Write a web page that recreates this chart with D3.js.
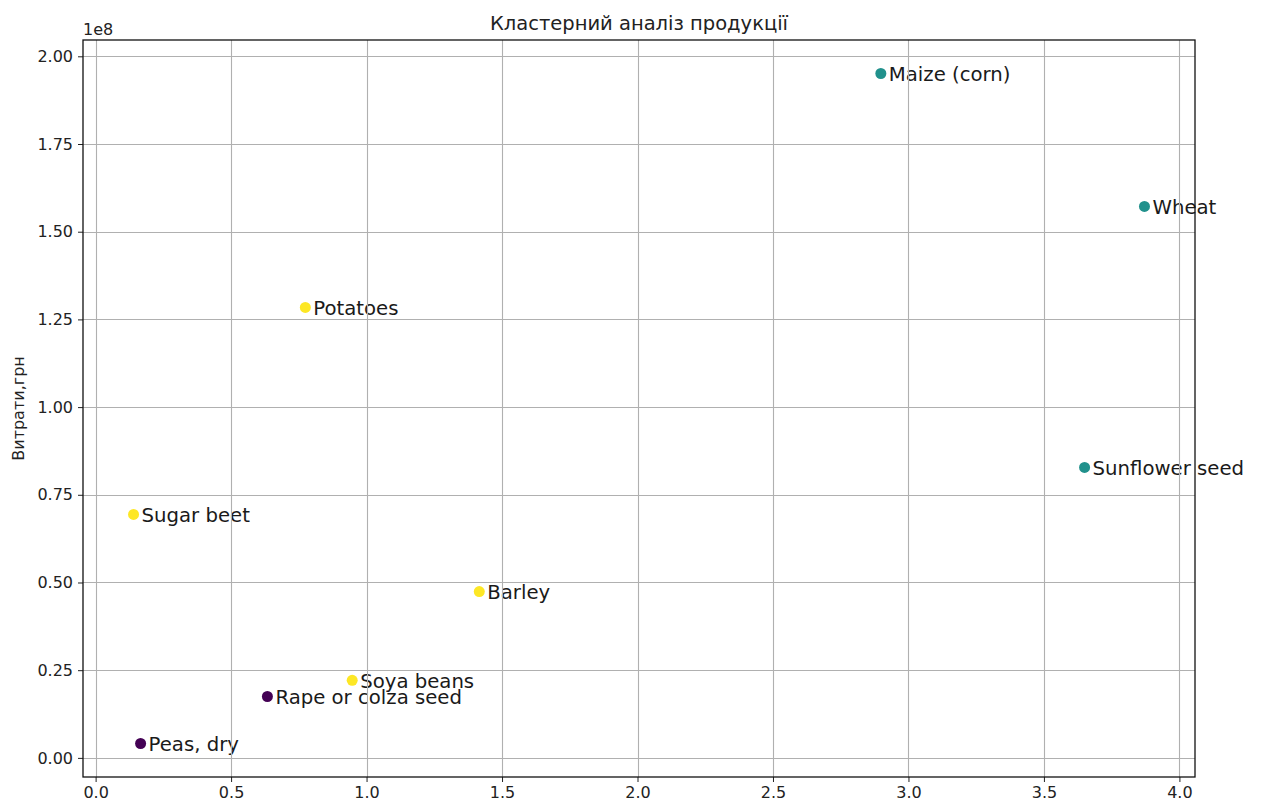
<!DOCTYPE html>
<html>
<head>
<meta charset="utf-8">
<script src="https://cdn.jsdelivr.net/npm/d3@7"></script>
<style>
  html, body { margin: 0; padding: 0; background: #fff; }
  svg { display: block; font-family: "DejaVu Sans", sans-serif; }
</style>
</head>
<body>
<svg id="chart" width="1261" height="805"></svg>
<script>
// Products, their x value and costs (грн), plus cluster id
const products = ["Maize (corn)", "Wheat", "Sunflower seed", "Potatoes", "Sugar beet",
                  "Barley", "Soya beans", "Rape or colza seed", "Peas, dry"];
const xValues = [2.898, 3.871, 3.650, 0.774, 0.140, 1.416, 0.947, 0.634, 0.166];
const costs = [1.951e8, 1.572e8, 0.828e8, 1.284e8, 0.694e8, 0.474e8, 0.221e8, 0.175e8, 0.041e8];
const clusters = [1, 1, 1, 2, 2, 2, 2, 0, 0];
const xTicks = [0.0, 0.5, 1.0, 1.5, 2.0, 2.5, 3.0, 3.5, 4.0];
const yTicks = [0, 0.25e8, 0.5e8, 0.75e8, 1.0e8, 1.25e8, 1.5e8, 1.75e8, 2.0e8];
const clusterColors = ["#440154", "#21918c", "#fde725"];

const svg = d3.select("#chart");
const box = { left: 83, right: 1195, top: 40, bottom: 777 };

// matplotlib-style 5% padding around the data
const xmin = d3.min(xValues), xmax = d3.max(xValues);
const ymin = d3.min(costs), ymax = d3.max(costs);
const xpad = (xmax - xmin) * 0.05, ypad = (ymax - ymin) * 0.05;

const x = d3.scaleLinear().domain([xmin - xpad, xmax + xpad]).range([box.left, box.right]);
const y = d3.scaleLinear().domain([ymin - ypad, ymax + ypad]).range([box.bottom, box.top]);

const data = products.map((p, i) => ({ name: p, x: xValues[i], y: costs[i], c: clusters[i] }));

// points
svg.append("g").selectAll("circle").data(data).join("circle")
  .attr("cx", d => x(d.x)).attr("cy", d => y(d.y)).attr("r", 5.5)
  .attr("fill", d => clusterColors[d.c]);

// labels
svg.append("g").selectAll("text").data(data).join("text")
  .attr("x", d => x(d.x) + 8).attr("y", d => y(d.y) + 7.5)
  .attr("font-size", 19.7).attr("fill", "#1a1a1a")
  .text(d => d.name);

// grid
const grid = svg.append("g").attr("stroke", "#b0b0b0").attr("stroke-width", 1.1);
grid.selectAll("line.gx").data(xTicks).join("line")
  .attr("x1", d => Math.round(x(d)) + 0.5).attr("x2", d => Math.round(x(d)) + 0.5)
  .attr("y1", box.top).attr("y2", box.bottom);
grid.selectAll("line.gy").data(yTicks).join("line")
  .attr("y1", d => Math.round(y(d)) + 0.5).attr("y2", d => Math.round(y(d)) + 0.5)
  .attr("x1", box.left).attr("x2", box.right);

// axes
const xAxis = d3.axisBottom(x).tickValues(xTicks).tickFormat(d3.format(".1f")).tickSizeOuter(0).tickSize(5).tickPadding(5);
const yAxis = d3.axisLeft(y).tickValues(yTicks).tickFormat(d => d3.format(".2f")(d / 1e8)).tickSizeOuter(0).tickSize(5).tickPadding(5);

const gx = svg.append("g").attr("transform", `translate(0,${box.bottom})`).call(xAxis);
const gy = svg.append("g").attr("transform", `translate(${box.left},0)`).call(yAxis);
[gx, gy].forEach(g => {
  g.select(".domain").remove();
  g.selectAll("text").attr("font-size", 16).attr("fill", "#222").attr("font-family", "DejaVu Sans");
  g.selectAll("line").attr("stroke", "#222");
});

// frame
svg.append("rect").attr("x", box.left).attr("y", box.top)
  .attr("width", box.right - box.left).attr("height", box.bottom - box.top)
  .attr("fill", "none").attr("stroke", "#111").attr("stroke-width", 1.3);

// offset text, title, y label
svg.append("text").attr("x", box.left).attr("y", box.top - 5)
  .attr("font-size", 16).attr("fill", "#222").text("1e8");
svg.append("text").attr("x", (box.left + box.right) / 2).attr("y", box.top - 10)
  .attr("text-anchor", "middle").attr("font-size", 19.5).attr("fill", "#222")
  .text("Кластерний аналіз продукції");
svg.append("text").attr("transform", `translate(24,${(box.top + box.bottom) / 2}) rotate(-90)`)
  .attr("text-anchor", "middle").attr("font-size", 16).attr("fill", "#222")
  .text("Витрати,грн");
</script>
</body>
</html>
